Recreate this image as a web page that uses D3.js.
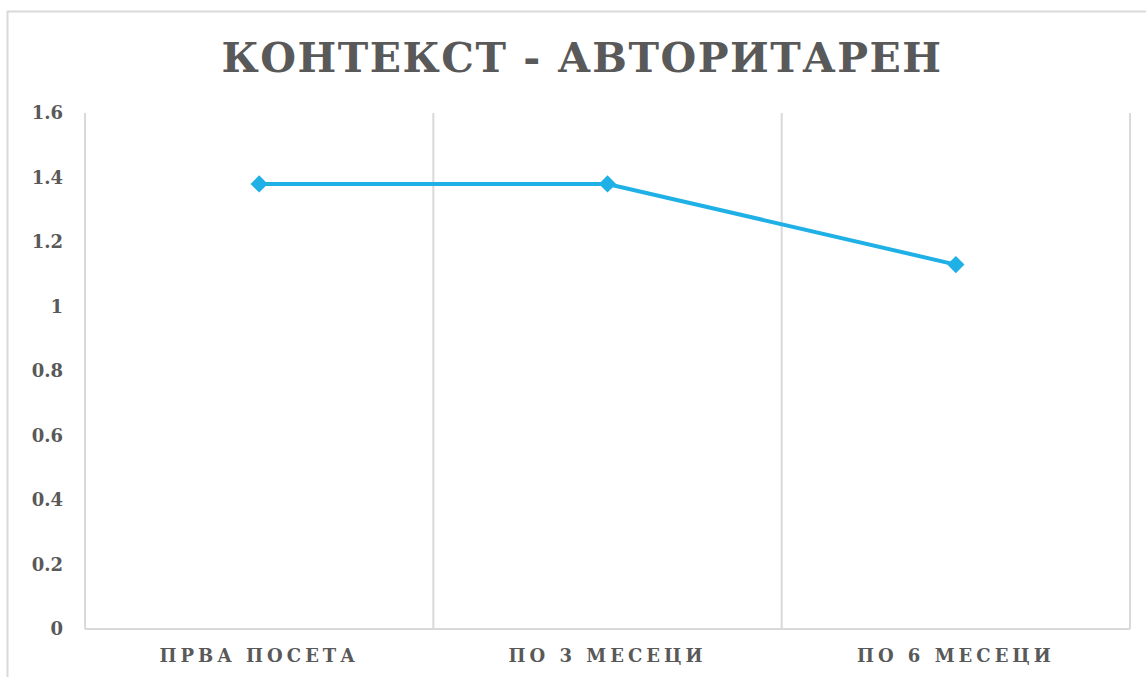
<!DOCTYPE html>
<html><head><meta charset="utf-8">
<script src="https://cdn.jsdelivr.net/npm/d3@7"></script>
<style>
html,body{margin:0;padding:0;background:#fff;}
svg{display:block;}
</style></head>
<body>
<svg id="chart" width="1146" height="677"></svg>
<script>
const title = "КОНТЕКСТ - АВТОРИТАРЕН";
const categories = ["ПРВА ПОСЕТА", "ПО 3 МЕСЕЦИ", "ПО 6 МЕСЕЦИ"];
const values = [1.38, 1.38, 1.13];
const yTicks = [0, 0.2, 0.4, 0.6, 0.8, 1, 1.2, 1.4, 1.6];

const svg = d3.select("#chart");
const W = 1146, H = 677;
const m = {left: 85, right: 1130, top: 113, bottom: 629};
const font = "'DejaVu Serif', Georgia, serif";
const textColor = "#595959";
const gridColor = "#d9d9d9";
const lineColor = "#1fb0e6";

// outer border
svg.append("path")
  .attr("d", `M7.5,${H} L7.5,11.5 L${W},11.5`)
  .attr("fill", "none").attr("stroke", gridColor).attr("stroke-width", 2);

const x = d3.scaleBand().domain(categories).range([m.left, m.right]).padding(0);
const y = d3.scaleLinear().domain([0, 1.6]).range([m.bottom, m.top]);

// vertical gridlines at band boundaries
const bounds = categories.map(c => x(c)).concat([m.right]);
svg.append("g").selectAll("line").data(bounds).join("line")
  .attr("x1", d => d).attr("x2", d => d)
  .attr("y1", m.top).attr("y2", m.bottom)
  .attr("stroke", gridColor).attr("stroke-width", 2);

// bottom axis line
svg.append("line")
  .attr("x1", m.left).attr("x2", m.right)
  .attr("y1", m.bottom).attr("y2", m.bottom)
  .attr("stroke", gridColor).attr("stroke-width", 2);

// y axis labels
const yAxis = d3.axisLeft(y).tickValues(yTicks).tickSize(0).tickPadding(0)
  .tickFormat(d => String(d));
const gy = svg.append("g").attr("transform", `translate(${m.left - 22},0)`).call(yAxis);
gy.select(".domain").remove();
gy.selectAll("text")
  .attr("font-family", font).attr("font-weight", "bold")
  .attr("font-size", 18).attr("fill", textColor);

// x axis labels
const xAxis = d3.axisBottom(x).tickSize(0).tickPadding(0);
const gx = svg.append("g").attr("transform", `translate(0,${m.bottom})`).call(xAxis);
gx.select(".domain").remove();
gx.selectAll("text")
  .attr("font-family", font).attr("font-weight", "bold")
  .attr("font-size", 18).attr("fill", textColor)
  .attr("letter-spacing", "4px")
  .attr("dy", null).attr("y", 33);

// line
const cx = d => x(d) + x.bandwidth() / 2;
const data = categories.map((c, i) => ({c, v: values[i]}));
svg.append("path").datum(data)
  .attr("d", d3.line().x(d => cx(d.c)).y(d => y(d.v)))
  .attr("fill", "none").attr("stroke", lineColor).attr("stroke-width", 4);

svg.append("g").selectAll("path").data(data).join("path")
  .attr("d", d3.symbol().type(d3.symbolDiamond2).size(190))
  .attr("transform", d => `translate(${cx(d.c)},${y(d.v)})`)
  .attr("fill", lineColor);

// title
svg.append("text")
  .attr("x", W / 2 + 9).attr("y", 72)
  .attr("text-anchor", "middle")
  .attr("font-family", font).attr("font-weight", "bold")
  .attr("font-size", 41).attr("fill", textColor)
  .attr("letter-spacing", "1.5px")
  .text(title);
</script>
</body></html>
